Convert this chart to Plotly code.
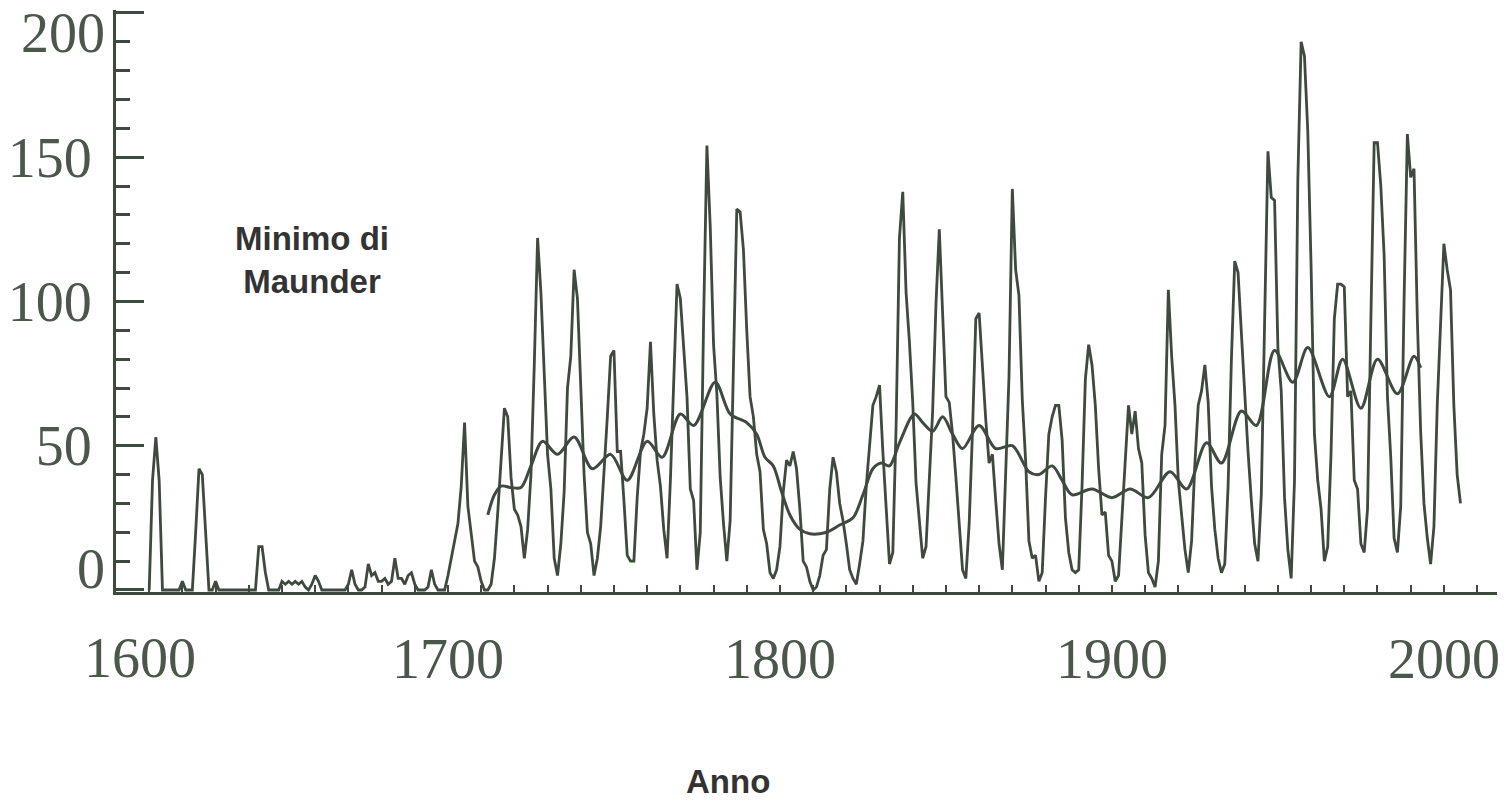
import plotly.graph_objects as go

# ---------------- data ----------------
first_year = 1610
sunspots = [
    # 1610-1619
    0, 38, 53, 38, 0, 0, 0, 0, 0, 0,
    # 1620-1629
    3, 0, 0, 0, 20, 42, 40, 20, 0, 0,
    # 1630-1639
    3, 0, 0, 0, 0, 0, 0, 0, 0, 0,
    # 1640-1649
    0, 0, 0, 15, 15, 6, 0, 0, 0, 0,
    # 1650-1659
    3, 2, 3, 2, 3, 2, 3, 1, 0, 2,
    # 1660-1669
    5, 3, 0, 0, 0, 0, 0, 0, 0, 0,
    # 1670-1679
    2, 7, 2, 0, 0, 1, 9, 5, 6, 3,
    # 1680-1689
    3, 4, 2, 3, 11, 4, 4, 2, 5, 6,
    # 1690-1699
    2, 0, 0, 0, 1, 7, 2, 0, 0, 0,
    # 1700-1709
    5, 11, 16, 23, 36, 58, 29, 20, 10, 8,
    # 1710-1719
    3, 0, 0, 2, 11, 27, 47, 63, 60, 39,
    # 1720-1729
    28, 26, 22, 11, 21, 40, 78, 122, 103, 73,
    # 1730-1739
    47, 35, 11, 5, 16, 34, 70, 81, 111, 101,
    # 1740-1749
    73, 40, 20, 16, 5, 11, 22, 40, 60, 81,
    # 1750-1759
    83, 48, 48, 31, 12, 10, 10, 32, 48, 54,
    # 1760-1769
    63, 86, 61, 45, 36, 21, 11, 38, 70, 106,
    # 1770-1779
    101, 82, 67, 35, 31, 7, 20, 93, 154, 126,
    # 1780-1789
    85, 68, 39, 23, 10, 24, 83, 132, 131, 118,
    # 1790-1799
    90, 67, 60, 47, 41, 21, 16, 6, 4, 7,
    # 1800-1809
    15, 34, 45, 43, 48, 42, 28, 10, 8, 3,
    # 1810-1819
    0, 1, 5, 12, 14, 35, 46, 41, 30, 24,
    # 1820-1829
    16, 7, 4, 2, 9, 17, 36, 50, 64, 67,
    # 1830-1839
    71, 48, 28, 9, 13, 57, 122, 138, 103, 86,
    # 1840-1849
    65, 37, 24, 11, 15, 40, 62, 99, 125, 96,
    # 1850-1859
    67, 65, 54, 39, 21, 7, 4, 23, 55, 94,
    # 1860-1869
    96, 77, 59, 44, 47, 31, 16, 7, 38, 74,
    # 1870-1879
    139, 111, 102, 66, 45, 17, 11, 12, 3, 6,
    # 1880-1889
    32, 54, 60, 64, 64, 52, 25, 13, 7, 6,
    # 1890-1899
    7, 36, 73, 85, 78, 64, 42, 26, 27, 12,
    # 1900-1909
    10, 3, 5, 24, 42, 64, 54, 62, 49, 44,
    # 1910-1919
    19, 6, 4, 1, 10, 47, 57, 104, 81, 64,
    # 1920-1929
    38, 26, 14, 6, 17, 44, 64, 69, 78, 65,
    # 1930-1939
    36, 21, 11, 6, 9, 36, 80, 114, 110, 89,
    # 1940-1949
    68, 48, 31, 16, 10, 33, 93, 152, 136, 135,
    # 1950-1959
    84, 69, 32, 14, 4, 38, 142, 190, 185, 159,
    # 1960-1969
    112, 54, 38, 28, 10, 15, 47, 94, 106, 106,
    # 1970-1979
    105, 67, 69, 38, 35, 16, 13, 28, 93, 155,
    # 1980-1989
    155, 140, 116, 67, 46, 18, 13, 29, 100, 158,
    # 1990-1999
    143, 146, 94, 55, 30, 18, 9, 22, 64, 93,
    # 2000-2005
    120, 111, 104, 64, 40, 30,
]
years = [first_year + i for i in range(len(sunspots))]

smooth_years = [1712, 1714, 1716, 1719, 1722, 1725, 1728.5, 1733, 1738, 1743.5,
                1749, 1754, 1760, 1764.5, 1770, 1774, 1780.5, 1785, 1790, 1793,
                1795.5, 1798, 1800.5, 1803, 1806, 1809, 1812, 1815, 1818, 1822,
                1825, 1828, 1830.5, 1833, 1836, 1840.5, 1843, 1846, 1849, 1852,
                1855, 1860, 1865, 1870, 1875, 1878, 1882, 1885, 1888, 1894,
                1900, 1905.5, 1911, 1917.5, 1922.5, 1928.5, 1933, 1939, 1943.5, 1949,
                1954.5, 1959, 1965.5, 1969.5, 1975, 1980, 1986, 1991, 1993]
smooth_vals = [26, 33, 36, 35.5, 35.5, 43, 51.5, 47, 53, 42,
               47, 38, 51.5, 46, 61, 57, 72, 61, 58, 54,
               46, 43, 34, 26, 21, 19.5, 19.5, 20.5, 22.5, 25,
               33, 42, 44, 43, 51, 61, 58, 55, 60, 54,
               49, 57, 49, 50, 41, 40, 43, 38, 33, 35,
               32, 35, 32, 41, 35, 51, 44, 62, 57, 83,
               72, 84, 67, 80, 63, 80, 68, 81, 77]

x_ticks = [1700, 1800, 1900, 2000]
y_ticks = [0, 50, 100, 150, 200]
y_tick_text = ["", "50", "100", "150", ""]

# ---------------- style ----------------
INK = "#3d4a3d"
LABEL_INK = "#4b574b"
tick_font = dict(family="Liberation Serif", size=56, color=LABEL_INK)
x_range = [1600, 2016]
y_range = [-0.7, 201]

fig = go.Figure()
fig.add_trace(go.Scatter(x=years, y=sunspots, mode="lines",
                         line=dict(color=INK, width=2.8), hoverinfo="skip",
                         showlegend=False))
fig.add_trace(go.Scatter(x=smooth_years, y=smooth_vals, mode="lines",
                         line=dict(color=INK, width=3, shape="spline", smoothing=0.9),
                         hoverinfo="skip", showlegend=False))
# invisible anchors for the overlay label axes
fig.add_trace(go.Scatter(x=[1600], y=[0], xaxis="x2", yaxis="y", mode="markers",
                         marker=dict(opacity=0), hoverinfo="skip", showlegend=False))
fig.add_trace(go.Scatter(x=[1600], y=[0], xaxis="x", yaxis="y2", mode="markers",
                         marker=dict(opacity=0), hoverinfo="skip", showlegend=False))
fig.add_trace(go.Scatter(x=[1600], y=[0], xaxis="x", yaxis="y3", mode="markers",
                         marker=dict(opacity=0), hoverinfo="skip", showlegend=False))

common = dict(showgrid=False, zeroline=False, automargin=False)

fig.update_layout(
    width=1512, height=803, autosize=False,
    margin=dict(l=116, r=15, t=10, b=211),
    paper_bgcolor="white", plot_bgcolor="white",
    xaxis=dict(range=x_range, tickvals=x_ticks, ticks="inside", ticklen=7,
               tickwidth=2, tickcolor=INK, showline=True, linecolor=INK,
               linewidth=3, tickfont=tick_font, ticklabelstandoff=16,
               minor=dict(dtick=10, tick0=1600, ticks="inside", ticklen=7,
                          tickwidth=2, tickcolor=INK), **common),
    xaxis2=dict(range=x_range, overlaying="x", anchor="y", side="bottom",
                tickvals=[1600], ticktext=["1600"], ticks="", showline=False,
                tickfont=tick_font, ticklabelstandoff=28, ticklabelshift=24,
                **common),
    yaxis=dict(range=y_range, tickvals=y_ticks, ticktext=y_tick_text,
               ticks="inside", ticklen=28, tickwidth=3, tickcolor=INK,
               showline=True, linecolor=INK, linewidth=3, tickfont=tick_font,
               ticklabelstandoff=10,
               minor=dict(dtick=10, tick0=0, ticks="inside", ticklen=14,
                          tickwidth=2.5, tickcolor=INK), **common),
    yaxis2=dict(range=y_range, overlaying="y", anchor="x", side="left",
                tickvals=[200], ticktext=["200"], ticks="", showline=False,
                tickfont=tick_font, ticklabelstandoff=10, ticklabelshift=20,
                **common),
    yaxis3=dict(range=y_range, overlaying="y", anchor="x", side="left",
                tickvals=[0], ticktext=["0"], ticks="", showline=False,
                tickfont=tick_font, ticklabelstandoff=10, ticklabelshift=-22,
                **common),
    annotations=[
        dict(x=1659, y=114.5, xref="x", yref="y", text="Minimo di<br>Maunder",
             showarrow=False, align="center",
             font=dict(family="Liberation Sans", size=33, color="#333333",
                       weight="bold")),
        dict(x=1784.3, y=-0.325, xref="x", yref="paper", text="Anno",
             showarrow=False, yanchor="middle",
             font=dict(family="Liberation Sans", size=33, color="#333333",
                       weight="bold")),
    ],
)

fig.write_html("out.html", config={"displayModeBar": False},
               post_script="document.body.style.margin='0';document.body.style.overflow='hidden';")
